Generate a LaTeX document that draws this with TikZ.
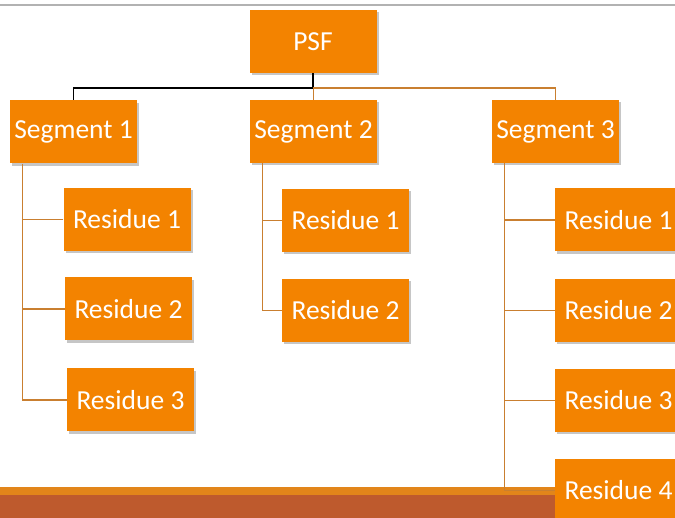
\documentclass[tikz,border=0pt]{standalone}
\usepackage{fontspec}
\setmainfont{Carlito}
\usetikzlibrary{shadows}
\definecolor{boxorange}{HTML}{F38300}
\definecolor{linkorange}{HTML}{C97F30}
\definecolor{stripe}{HTML}{E2851A}
\definecolor{band}{HTML}{BE5A2D}
\tikzset{
 part/.style={fill=boxorange,text=white,minimum width=127pt,minimum height=63pt,inner sep=0pt,
  font=\fontsize{27.5}{30}\selectfont,drop shadow={opacity=0.45,shadow xshift=2pt,shadow yshift=-2.5pt}},
 link/.style={draw=linkorange,line width=1.3pt}
}
\begin{document}
\begin{tikzpicture}[x=1pt,y=-1pt]
 \useasboundingbox (0,0) rectangle (675,518);
 \clip (0,0) rectangle (675,518);
 \draw[gray!60,line width=1.5pt](0,5)--(675,5);
 \fill[stripe](0,487) rectangle (675,495);
 \fill[band](0,495) rectangle (675,518);
 \node[part] (psf) at (313,41.5) {PSF};
 \node[part] (seg1) at (73.5,132) {Segment 1};
 \node[part] (seg2) at (313.5,131.5) {Segment 2};
 \node[part] (seg3) at (555.5,131.5) {Segment 3};
 \node[part] (s1r1) at (127,219.5) {Residue 1};
 \node[part] (s1r2) at (128.5,309) {Residue 2};
 \node[part] (s1r3) at (130.5,400) {Residue 3};
 \node[part] (s2r1) at (345.5,220.5) {Residue 1};
 \node[part] (s2r2) at (345.5,310.5) {Residue 2};
 \node[part] (s3r1) at (618.5,220) {Residue 1};
 \node[part] (s3r2) at (618.5,310.5) {Residue 2};
 \node[part] (s3r3) at (618.5,400.5) {Residue 3};
 \node[part] (s3r4) at (618.5,490.5) {Residue 4};
 % psf to segments
 \coordinate (fork) at (psf.south |- 0,88);
 \draw[black,line width=1.2pt](psf.south)--(fork)-|(seg1.north);
 \draw[link](fork)-|(seg3.north);
 \draw[link](seg2.north |- fork)--(seg2.north);
 % segments to residues
 \coordinate (t1) at ([xshift=13pt]seg1.south west);
 \coordinate (t2) at ([xshift=13pt]seg2.south west);
 \coordinate (t3) at ([xshift=13pt]seg3.south west);
 \draw[link](t1)|-(s1r3.west);
 \draw[link](s1r1.west)--(s1r1.west -| t1);
 \draw[link](s1r2.west)--(s1r2.west -| t1);
 \draw[link](t2)|-(s2r2.west);
 \draw[link](s2r1.west)--(s2r1.west -| t2);
 \draw[link](t3)|-(s3r4.west);
 \draw[link](s3r1.west)--(s3r1.west -| t3);
 \draw[link](s3r2.west)--(s3r2.west -| t3);
 \draw[link](s3r3.west)--(s3r3.west -| t3);
\end{tikzpicture}
\end{document}
